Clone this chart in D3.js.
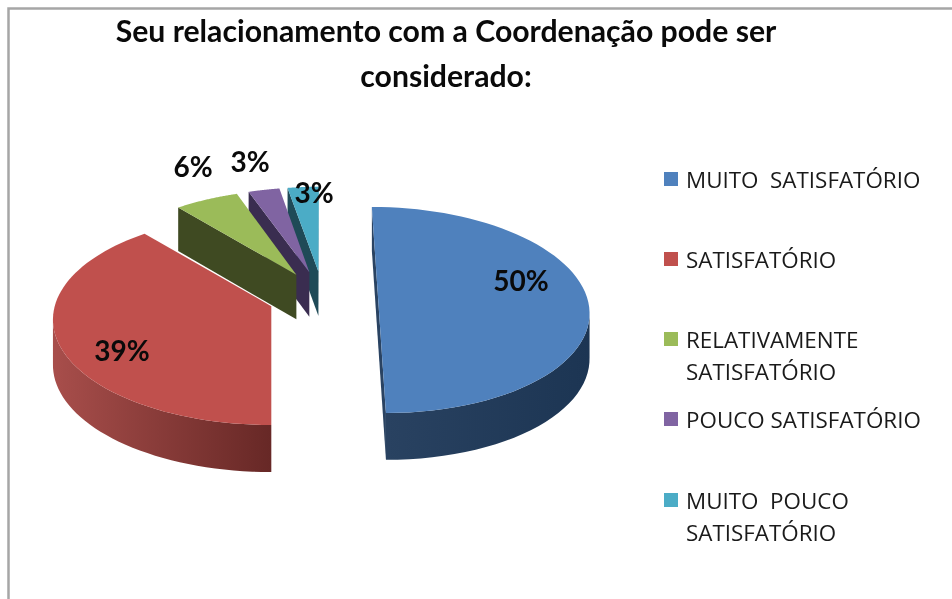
<!DOCTYPE html>
<html><head><meta charset="utf-8">
<style>html,body{margin:0;background:#fff}svg{display:block;filter:blur(0.45px)}</style>
<script src="https://cdn.jsdelivr.net/npm/d3@7"></script></head><body>
<svg id="c" width="952" height="599"></svg>
<script>
const categories = ["MUITO  SATISFATÓRIO","SATISFATÓRIO","RELATIVAMENTE|SATISFATÓRIO","POUCO SATISFATÓRIO","MUITO  POUCO|SATISFATÓRIO"];
const values = [50,38.9,5.6,2.75,2.75];
const valueLabels = ["50%","39%","6%","3%","3%"];
const titleLines = ["Seu relacionamento com a Coordenação pode ser","considerado:"];
const topColors = ["#4f81bd","#c0504d","#9bbb59","#8064a2","#4bacc6"];
const labelPos = [[521,281],[122,351],[193,167],[250,162],[314,193]];
const legendY = [180,260,340,420,501];

const W=952,H=599,svg=d3.select("#c");
svg.append("rect").attr("width",W).attr("height",H).attr("fill","#fff");
svg.append("path").attr("d",`M8.5 599V8.5H952`).attr("fill","none").attr("stroke","#a6a6a6").attr("stroke-width",2.5);

const cx=323,cy=297,R=211,vScale=101.4,p=0.126,ex=55,depth=45;
const perspectiveOnOffset=[1,0,1,1,1];
const xStretch=[0.99,1.015,1,1,1];
const arcs=d3.pie().value(d=>d).sort(null)(values);
const line=d3.line();
const defs=svg.append("defs");
const wallGrad=[["#2a4362","#1c3553"],["#a84e4b","#672826"],["#3f4a22","#3f4a22"],["#3a2d50","#3a2d50"],["#1f4a57","#1f4a57"]];
const g=svg.append("g");
d3.range(arcs.length).reverse().forEach(i=>{
  const a=arcs[i],mid=(a.startAngle+a.endAngle)/2;
  const ox=Math.sin(mid)*ex, oy=-Math.cos(mid)*ex;
  const proj=(rx,ry,z)=>{
    const v=(ry+oy)/R, w=1-p*v;
    const sx=perspectiveOnOffset[i]? cx+(rx*xStretch[i]+ox)/w : cx+rx*xStretch[i]/w+ox;
    return [sx, cy+vScale*v/w+(z?depth/Math.pow(w,.3):0)];
  };
  const n=d3.range(0,65).map(k=>a.startAngle+(a.endAngle-a.startAngle)*k/64);
  const rim=n.map(t=>[Math.sin(t)*R,-Math.cos(t)*R]);
  const top=rim.map(q=>proj(q[0],q[1],0)), bot=rim.map(q=>proj(q[0],q[1],1));
  const ap=proj(0,0,0), apB=proj(0,0,1);
  const sg=g.append("g");
  const gid="w"+i;
  const lg=defs.append("linearGradient").attr("id",gid).attr("gradientUnits","userSpaceOnUse")
    .attr("x1",d3.min(top,d=>d[0])).attr("x2",d3.max(top,d=>d[0])).attr("y1",0).attr("y2",0);
  lg.append("stop").attr("offset",0).attr("stop-color",wallGrad[i][0]);
  lg.append("stop").attr("offset",1).attr("stop-color",wallGrad[i][1]);
  const face=(pts,fill)=>{ if(d3.polygonArea(pts)>0) sg.append("path").attr("d",line(pts)+"Z").attr("fill",fill); };
  face([ap,top[0],bot[0],apB],wallGrad[i][0]);
  face([top[64],ap,apB,bot[64]],wallGrad[i][0]);
  let run=[];
  const flush=()=>{ if(run.length){ const pts=[...run.map(k=>top[k]),...run.slice().reverse().map(k=>bot[k])]; sg.append("path").attr("d",line(pts)+"Z").attr("fill",`url(#${gid})`); run=[]; } };
  for(let k=0;k<64;k++){
    if(d3.polygonArea([top[k],top[k+1],bot[k+1],bot[k]])>0){ if(!run.length) run.push(k); run.push(k+1);} else flush();
  }
  flush();
  sg.append("path").attr("d",line([ap,...top])+"Z").attr("fill",topColors[i]);
});
const font="Lato, Carlito, sans-serif";
titleLines.forEach((t,i)=>svg.append("text").attr("x",446).attr("y",[42,87][i]).attr("text-anchor","middle")
  .attr("font-family",font).attr("font-weight",700).attr("font-size",30.2).attr("fill","#0a0a0a").text(t));
valueLabels.forEach((t,i)=>svg.append("text").attr("x",labelPos[i][0]).attr("y",labelPos[i][1]+10).attr("text-anchor","middle")
  .attr("font-family",font).attr("font-weight",700).attr("font-size",28).attr("fill","#0a0a0a").text(t));
categories.forEach((c,i)=>{
  svg.append("rect").attr("x",664).attr("y",legendY[i]-8).attr("width",14).attr("height",14).attr("fill",topColors[i]);
  c.split("|").forEach((l,j)=>svg.append("text").attr("x",686).attr("y",legendY[i]+8+j*32)
    .attr("font-family","'Open Sans',sans-serif").attr("font-size",22.4).attr("fill","#1a1a1a").style("white-space","pre").text(l));
});
</script></body></html>
